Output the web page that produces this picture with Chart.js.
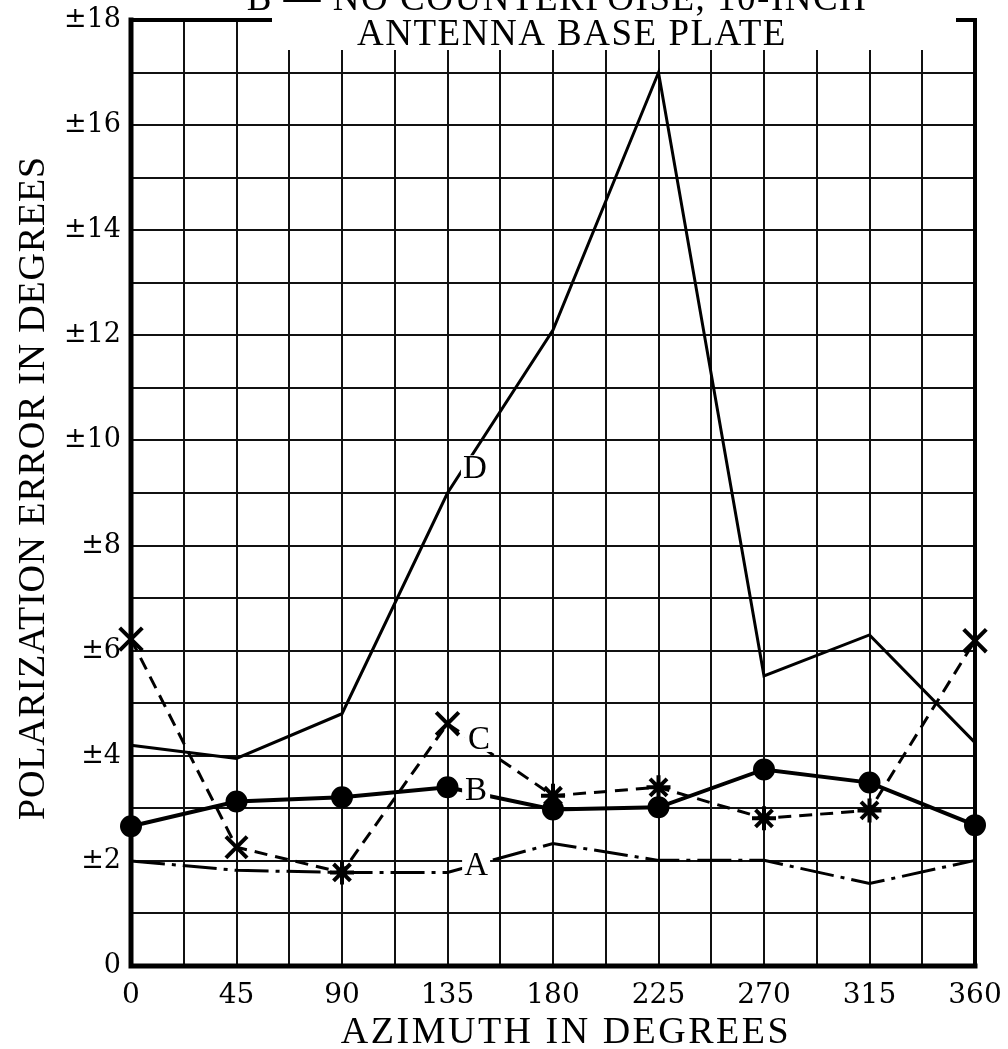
<!DOCTYPE html>
<html>
<head>
<meta charset="utf-8">
<script src="https://cdn.jsdelivr.net/npm/chart.js@4.4.1/dist/chart.umd.min.js"></script>
<style>
  html, body { margin: 0; padding: 0; background: #fff; }
  #wrap { width: 1008px; height: 1049px; position: relative; }
</style>
</head>
<body>
<div id="wrap"><canvas id="chart"></canvas></div>
<script>
// values, one per 45 degrees of azimuth
const azimuth = [0, 45, 90, 135, 180, 225, 270, 315, 360];
const curveA = [2.0, 1.82, 1.78, 1.78, 2.33, 2.01, 2.01, 1.57, 2.01];
const curveB = [2.66, 3.13, 3.21, 3.40, 2.98, 3.02, 3.74, 3.49, 2.68];
const curveC = [6.22, 2.26, 1.78, 4.61, 3.24, 3.40, 2.81, 2.96, 6.19];
const curveD = [4.2, 3.95, 4.8, 9.0, 12.1, 17.0, 5.52, 6.30, 4.25];

const xTickLabels = ['0', '45', '90', '135', '180', '225', '270', '315', '360'];
const yTickLabels = ['0', '±2', '±4', '±6', '±8', '±10', '±12', '±14', '±16', '±18'];
const titleLines = ['B — NO COUNTERPOISE, 10-INCH', 'ANTENNA BASE PLATE'];
const xTitle = 'AZIMUTH IN DEGREES';
const yTitle = 'POLARIZATION ERROR IN DEGREES';

const pts = (ys) => ys.map((y, i) => ({ x: azimuth[i], y: y }));

// letters written on the curves (azimuth, value where the letter sits)
const curveTags = [
  { text: 'D', x: 146.7, y: 9.47 },
  { text: 'C', x: 148.4, y: 4.32 },
  { text: 'B', x: 147.2, y: 3.34 },
  { text: 'A', x: 147.2, y: 1.92 },
];

const serif = '"Liberation Serif", "Times New Roman", serif';
const wideSerif = '"DejaVu Serif", serif';

const platePlugin = {
  id: 'plate',
  afterDatasetsDraw(chart) {
    const { ctx, scales } = chart;
    ctx.save();
    ctx.font = '33px ' + serif;
    ctx.textAlign = 'center';
    ctx.textBaseline = 'middle';
    curveTags.forEach((t) => {
      const px = scales.x.getPixelForValue(t.x);
      const py = scales.y.getPixelForValue(t.y);
      ctx.fillStyle = '#fff';
      ctx.fillRect(px - 14, py - 13, 28, 26);
      ctx.fillStyle = '#000';
      ctx.fillText(t.text, px, py + 1);
    });
    ctx.restore();
  },
  afterDraw(chart) {
    const { ctx, chartArea: a } = chart;
    ctx.save();
    // blank strip behind the caption
    ctx.fillStyle = '#fff';
    ctx.fillRect(272, 0, 686, 50);

    ctx.fillStyle = '#000';
    ctx.textAlign = 'center';
    ctx.textBaseline = 'alphabetic';
    ctx.font = '37px ' + serif;
    ctx.letterSpacing = '1.5px';
    ctx.fillText(titleLines[0], 557, 10);
    ctx.fillText(titleLines[1], 572, 45);

    // axis titles
    ctx.font = '38px ' + serif;
    ctx.letterSpacing = '2.5px';
    ctx.textBaseline = 'middle';
    ctx.fillText(xTitle, 566, 1033);
    ctx.letterSpacing = '0.8px';
    ctx.translate(34, 488);
    ctx.rotate(-Math.PI / 2);
    ctx.fillText(yTitle, 0, 0);
    ctx.restore();

    // frame
    ctx.save();
    ctx.strokeStyle = '#000';
    ctx.lineCap = 'square';
    ctx.lineWidth = 5;
    ctx.beginPath();
    ctx.moveTo(a.left, a.top);
    ctx.lineTo(a.left, a.bottom);
    ctx.lineTo(a.right, a.bottom);
    ctx.stroke();
    ctx.lineWidth = 4;
    ctx.beginPath();
    ctx.moveTo(a.right, a.bottom);
    ctx.lineTo(a.right, a.top);
    ctx.lineTo(a.right - 17, a.top);
    ctx.moveTo(a.left, a.top);
    ctx.lineTo(270, a.top);
    ctx.stroke();
    ctx.restore();
  },
};

const ctx = document.getElementById('chart').getContext('2d');

new Chart(ctx, {
  type: 'line',
  data: {
    datasets: [
      {
        label: 'A',
        data: pts(curveA),
        borderColor: '#000',
        borderWidth: 3,
        borderDash: [34, 7, 4, 7],
        pointRadius: 0,
        clip: false,
      },
      {
        label: 'B',
        data: pts(curveB),
        borderColor: '#000',
        borderWidth: 4,
        pointRadius: 9,
        pointBackgroundColor: '#000',
        pointBorderColor: '#000',
        clip: false,
      },
      {
        label: 'C',
        data: pts(curveC),
        borderColor: '#000',
        borderWidth: 3,
        borderDash: [13, 8],
        pointStyle: ['crossRot', 'crossRot', 'star', 'crossRot', 'star', 'star', 'star', 'star', 'crossRot'],
        pointRadius: [16, 15, 12, 16, 12, 12, 12, 12, 16],
        pointBorderWidth: 4,
        pointBorderColor: '#000',
        clip: false,
      },
      {
        label: 'D',
        data: pts(curveD),
        borderColor: '#000',
        borderWidth: 3,
        pointRadius: 0,
        clip: false,
      },
    ],
  },
  options: {
    animation: false,
    responsive: true,
    maintainAspectRatio: false,
    layout: { padding: { top: 15, right: 33, left: 0, bottom: 0 } },
    plugins: {
      legend: { display: false },
      tooltip: { enabled: false },
    },
    scales: {
      x: {
        type: 'linear',
        min: 0,
        max: 360,
        afterFit: (s) => {
          s.height = 83;
          s.paddingLeft = 0;
          s.paddingRight = 0;
        },
        ticks: {
          stepSize: 22.5,
          autoSkip: false,
          maxRotation: 0,
          padding: 13,
          color: '#000',
          font: { family: wideSerif, size: 28 },
          callback: (v) => (v % 45 === 0 ? xTickLabels[v / 45] : ''),
        },
        grid: { color: '#111', lineWidth: 2, drawTicks: false },
        border: { display: false },
      },
      y: {
        min: 0,
        max: 18,
        afterFit: (s) => {
          s.width = 131;
          s.paddingTop = 0;
          s.paddingBottom = 0;
        },
        ticks: {
          stepSize: 1,
          autoSkip: false,
          padding: 10,
          color: '#000',
          font: { family: wideSerif, size: 27 },
          callback: (v) => (v % 2 === 0 ? yTickLabels[v / 2] : ''),
        },
        grid: { color: '#111', lineWidth: 2, drawTicks: false },
        border: { display: false },
      },
    },
  },
  plugins: [platePlugin],
});
</script>
</body>
</html>
